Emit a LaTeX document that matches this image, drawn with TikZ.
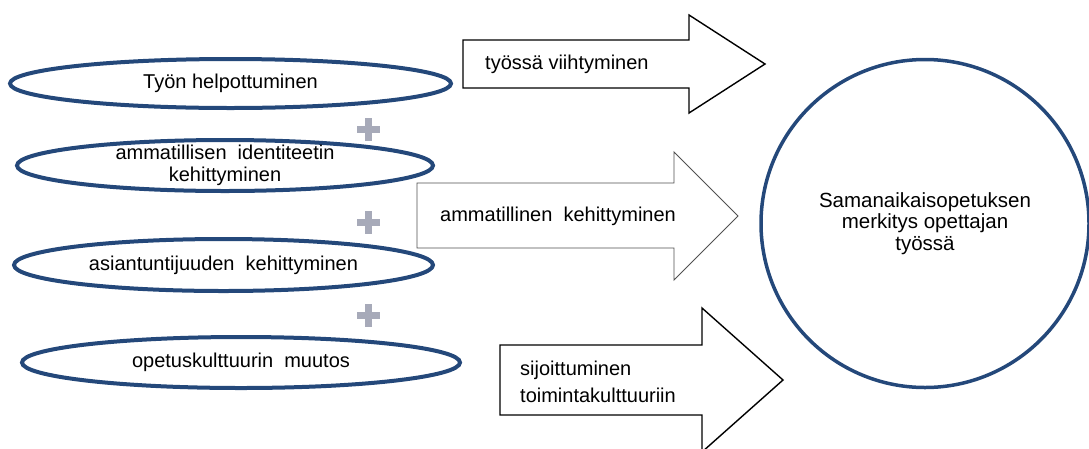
\documentclass[tikz,border=0pt]{standalone}
\usepackage{fontspec}
\setmainfont{Liberation Sans}
\usetikzlibrary{shapes.geometric}
\definecolor{ovalblue}{HTML}{24487A}
\definecolor{plusgray}{HTML}{A7AAB9}
\definecolor{arrowgray}{HTML}{505050}
\begin{document}
\begin{tikzpicture}[x=1pt,y=-1pt,
  oval/.style={ellipse, draw=ovalblue, line width=4pt, inner sep=0pt},
  lbl/.style={font=\fontsize{20}{21.5}\selectfont, align=center, inner sep=0pt},
  albl/.style={font=\fontsize{20}{27}\selectfont, align=left, anchor=west, inner sep=0pt},
  bigarrow/.style={draw=black, line width=1.4pt, fill=white, line join=miter},
  thinarrow/.style={draw=arrowgray, line width=0.9pt, fill=white, line join=miter},
  hub/.style={circle, draw=ovalblue, line width=3.5pt, inner sep=0pt, minimum size=328pt,
    font=\fontsize{20.5}{21.5}\selectfont, align=center}]
\useasboundingbox (0,0) rectangle (1089,448);

% ovals
\node[oval, minimum width=441pt, minimum height=49pt] (e1) at (230.5,83.5) {};
\node[lbl] (l1) at (e1) {Työn helpottuminen};
\node[oval, minimum width=416pt, minimum height=51pt] (e2) at (225,165.5) {};
\node[lbl] (l2) at (e2) {ammatillisen\ \ identiteetin\\kehittyminen};
\node[oval, minimum width=419pt, minimum height=52pt] (e3) at (223.5,265) {};
\node[lbl] (l3) at (e3) {asiantuntijuuden\ \ kehittyminen};
\node[oval, minimum width=438pt, minimum height=51pt] (e4) at (241,362.5) {};
\node[lbl] (l4) at (e4) {opetuskulttuurin\ \ muutos};

% plus signs
\foreach \py in {129,222,315}{
  \fill[plusgray] (356.5,\py-3.5) rectangle (379.5,\py+3.5);
  \fill[plusgray] (364.5,\py-11.5) rectangle (371.5,\py+11.5);
}

% block arrows
\draw[bigarrow] (463,40) -- (689,40) -- (689,15) -- (765,64) -- (689,113) -- (689,88) -- (463,88) -- cycle;
\node[albl] (t1) at (485,64) {työssä viihtyminen};
\draw[thinarrow] (417,183) -- (674,183) -- (674,152) -- (738,216) -- (674,280) -- (674,248) -- (417,248) -- cycle;
\node[albl] (t2) at (440,216) {ammatillinen\ \ kehittyminen};
\draw[bigarrow] (500,345) -- (702,345) -- (702,308) -- (783,380) -- (702,452) -- (702,415) -- (500,415) -- cycle;
\node[albl] (t3) at (520,382) {sijoittuminen\\toimintakulttuuriin};

% hub
\node[hub] (hub) at (925,223.5) {Samanaikaisopetuksen\\merkitys opettajan\\työssä};
\end{tikzpicture}
\end{document}
